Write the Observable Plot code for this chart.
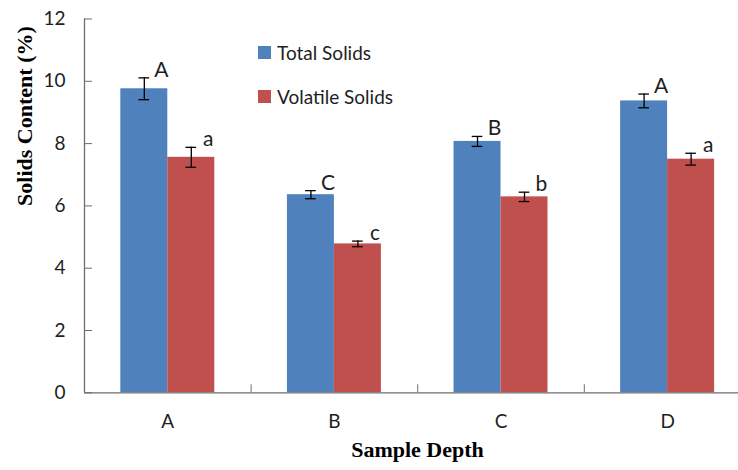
<!DOCTYPE html>
<html>
<head>
<meta charset="utf-8">
<script src="https://cdn.jsdelivr.net/npm/d3@7"></script>
<script src="https://cdn.jsdelivr.net/npm/@observablehq/plot@0.6"></script>
<style>
  body { margin: 0; background: #fff; }
  #chart { position: relative; width: 738px; height: 470px; overflow: hidden; }
  .legend-item { position: absolute; left: 258px; height: 22px; display: flex; align-items: center;
    font: 19px Lato, sans-serif; color: #1e1e1e; white-space: nowrap; }
  .legend-item span.swatch { width: 13px; height: 13px; margin-right: 6px; display: inline-block; }
</style>
</head>
<body>
<div id="chart"></div>
<script>
// Sample depths along the x axis
const depths = ["A", "B", "C", "D"];
// The two measured series
const series = ["Total Solids", "Volatile Solids"];
const colors = ["#4F81BD", "#C0504D"];
// Mean solids content (%) and standard error per depth
const totalMean = [9.76, 6.36, 8.07, 9.37];
const totalErr = [0.35, 0.13, 0.16, 0.22];
const volatileMean = [7.56, 4.78, 6.29, 7.50];
const volatileErr = [0.32, 0.09, 0.15, 0.19];
// Significance groupings written above the bars
const totalGroup = ["A", "C", "B", "A"];
const volatileGroup = ["a", "c", "b", "a"];
// Y tick values
const yTicks = [0, 2, 4, 6, 8, 10, 12];

const barWidth = 0.282; // in category units
const capHalf = 0.032;

const rows = [];
depths.forEach((depth, i) => {
  [[totalMean, totalErr, totalGroup], [volatileMean, volatileErr, volatileGroup]].forEach(([m, e, g], s) => {
    const x1 = s === 0 ? i - barWidth : i;
    const x2 = s === 0 ? i : i + barWidth;
    rows.push({depth, i, series: series[s], mean: m[i], err: e[i], group: g[i], x1, x2, cx: (x1 + x2) / 2});
  });
});

const axisColor = "#6e6e6e";
const textColor = "#1e1e1e";

const chart = Plot.plot({
  width: 738,
  height: 470,
  marginLeft: 84,
  marginRight: 0,
  marginTop: 18.5,
  marginBottom: 77.7,
  style: {fontFamily: "Lato, sans-serif", fontSize: "19px", color: textColor, background: "#fff"},
  x: {domain: [-0.5, 3.4255], axis: null},
  y: {domain: [0, 12], axis: null},
  color: {domain: series, range: colors},
  marks: [
    Plot.rectY(rows, {x1: "x1", x2: "x2", y: "mean", fill: "series"}),
    // error bars
    Plot.ruleX(rows, {x: "cx", y1: d => d.mean - d.err, y2: d => d.mean + d.err, stroke: "#000", strokeWidth: 1.3}),
    Plot.ruleY(rows, {y: d => d.mean + d.err, x1: d => d.cx - capHalf, x2: d => d.cx + capHalf, stroke: "#000", strokeWidth: 1.3}),
    Plot.ruleY(rows, {y: d => d.mean - d.err, x1: d => d.cx - capHalf, x2: d => d.cx + capHalf, stroke: "#000", strokeWidth: 1.3}),
    // group letters
    Plot.text(rows, {x: "cx", y: d => d.mean + d.err, text: "group", dx: 17, dy: -1, lineAnchor: "bottom",
      fontSize: 21, fill: textColor}),
    // axes lines
    Plot.ruleX([-0.5], {stroke: axisColor, strokeWidth: 1.3}),
    Plot.ruleY([0], {stroke: axisColor, strokeWidth: 1.3}),
    // y axis ticks (inward) and labels
    Plot.axisY({ticks: yTicks, tickSize: -8, text: null, stroke: axisColor, label: null}),
    Plot.axisY({ticks: yTicks, tickSize: 0, tickPadding: 19, tickFormat: d => d, fill: textColor, fontSize: 19, label: null}),
    // x axis ticks between depths (inward) and depth labels
    Plot.axisX({ticks: [0.5, 1.5, 2.5], tickSize: -8, text: null, stroke: axisColor, label: null}),
    Plot.axisX({ticks: depths.map((d, i) => i), tickSize: 0, tickPadding: 22, tickFormat: i => depths[i],
      fill: textColor, fontSize: 19, label: null}),
    // axis titles
    Plot.text(["Solids Content (%)"], {frameAnchor: "left", dx: -60, rotate: -90, text: d => d,
      fontFamily: "Liberation Serif, serif", fontWeight: "bold", fontSize: 22, fill: "#000"}),
    Plot.text(["Sample Depth"], {frameAnchor: "bottom", dx: 6, dy: 64, text: d => d,
      fontFamily: "Liberation Serif, serif", fontWeight: "bold", fontSize: 22, fill: "#000"})
  ]
});

const container = document.getElementById("chart");
container.appendChild(chart);

// Legend placed inside the plot area
const legendTops = [41, 85];
series.forEach((name, k) => {
  const item = document.createElement("div");
  item.className = "legend-item";
  item.style.top = legendTops[k] + "px";
  const sw = document.createElement("span");
  sw.className = "swatch";
  sw.style.background = colors[k];
  item.appendChild(sw);
  item.appendChild(document.createTextNode(name));
  container.appendChild(item);
});
</script>
</body>
</html>
